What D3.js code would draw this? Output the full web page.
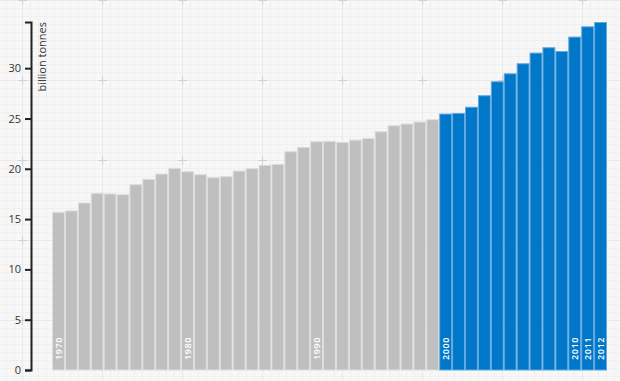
<!DOCTYPE html>
<html>
<head>
<meta charset="utf-8">
<script src="https://cdn.jsdelivr.net/npm/d3@7"></script>
<style>
	body {
		margin: 0;
		background: #f7f7f7;
	}
	.canva {
		width: 620px;
		height: 381px;
	}
	text {
		font-family: "Open Sans", sans-serif;
	}
</style>
</head>
<body>
<div class="canva"></div>
<script>
const years = d3.range(1970, 2013);
const values = [
	15.72, 15.86, 16.65, 17.61, 17.55, 17.48, 18.47, 19.0, 19.53, 20.09,
	19.76, 19.46, 19.17, 19.27, 19.83, 20.06, 20.39, 20.49, 21.75, 22.18,
	22.74, 22.77, 22.67, 22.9, 23.07, 23.73, 24.33, 24.5, 24.7, 24.93,
	25.49, 25.55, 26.17, 27.31, 28.7, 29.49, 30.49, 31.55, 32.08, 31.71,
	33.14, 34.16, 34.59
];
const labelYears = [1970, 1980, 1990, 2000, 2010, 2011, 2012];
const yTicks = [0, 5, 10, 15, 20, 25, 30];
const highlightFrom = 2000;

const width = 620;
const height = 381;

const svg = d3
	.select(".canva")
	.append("svg")
	.attr("width", width)
	.attr("height", height);

// background grid (very faint)
const grid = svg.append("g");
for (let gx = 6; gx < width; gx += 8) {
	grid.append("line")
		.attr("x1", gx + 0.5).attr("x2", gx + 0.5)
		.attr("y1", 0).attr("y2", height)
		.attr("stroke", "#f0f0f0");
}
for (let gy = 0; gy < height; gy += 8) {
	grid.append("line")
		.attr("x1", 0).attr("x2", width)
		.attr("y1", gy + 0.5).attr("y2", gy + 0.5)
		.attr("stroke", "#f0f0f0");
}
for (let gx = 22; gx < width; gx += 80) {
	grid.append("line")
		.attr("x1", gx + 0.5).attr("x2", gx + 0.5)
		.attr("y1", 0).attr("y2", height)
		.attr("stroke", "#eaeaea");
}
for (let gy = 0; gy < height; gy += 80) {
	grid.append("line")
		.attr("x1", 0).attr("x2", width)
		.attr("y1", gy + 0.5).attr("y2", gy + 0.5)
		.attr("stroke", "#eaeaea");
}
for (let gx = 22; gx < width; gx += 80) {
	for (let gy = 0; gy < height; gy += 80) {
		grid.append("path")
			.attr("d", `M${gx - 4},${gy + 0.5}h9M${gx + 0.5},${gy - 4}v9`)
			.attr("stroke", "#d0d0d0");
	}
}

const x = d3.scaleBand().domain(years).range([52, 607]).padding(0);
const y = d3
	.scaleLinear()
	.domain([0, d3.max(values)])
	.range([370, 22]);

const data = years.map((yr, i) => ({ year: yr, value: values[i] }));

svg.append("g")
	.selectAll("rect")
	.data(data)
	.enter()
	.append("rect")
	.attr("x", (d) => x(d.year) + 0.5)
	.attr("width", x.bandwidth() - 1)
	.attr("y", (d) => y(d.value) + 0.5)
	.attr("height", (d) => y(0) - y(d.value) - 0.5)
	.attr("fill", (d) => (d.year >= highlightFrom ? "#0077c8" : "#bfbfbf"))
	.attr("stroke", (d) => (d.year >= highlightFrom ? "#62a9df" : "#dedede"))
	.attr("stroke-width", 1);

// year labels inside bars
svg.append("g")
	.selectAll("text")
	.data(labelYears)
	.enter()
	.append("text")
	.attr("transform", (d) => `translate(${x(d) + x.bandwidth() / 2},360) rotate(-90)`)
	.attr("dy", "0.35em")
	.attr("fill", "#ffffff")
	.attr("font-size", 9)
	.attr("font-weight", 600)
	.attr("letter-spacing", 0.6)
	.text((d) => d);

// y axis
const yAxis = svg
	.append("g")
	.attr("transform", "translate(31,0)")
	.call(d3.axisLeft(y).tickValues(yTicks).tickSize(6).tickSizeOuter(6).tickPadding(4));

yAxis.select(".domain").attr("stroke", "#222").attr("stroke-width", 2);
yAxis.selectAll(".tick line").attr("stroke", "#222").attr("stroke-width", 2);
yAxis.selectAll(".tick text")
	.attr("fill", "#333")
	.attr("font-size", 11)
	.attr("font-family", "Open Sans, sans-serif");

svg.append("text")
	.attr("transform", "translate(42,22) rotate(-90)")
	.attr("text-anchor", "end")
	.attr("dy", "0.35em")
	.attr("fill", "#333")
	.attr("font-size", 11)
	.text("billion tonnes");
</script>
</body>
</html>
